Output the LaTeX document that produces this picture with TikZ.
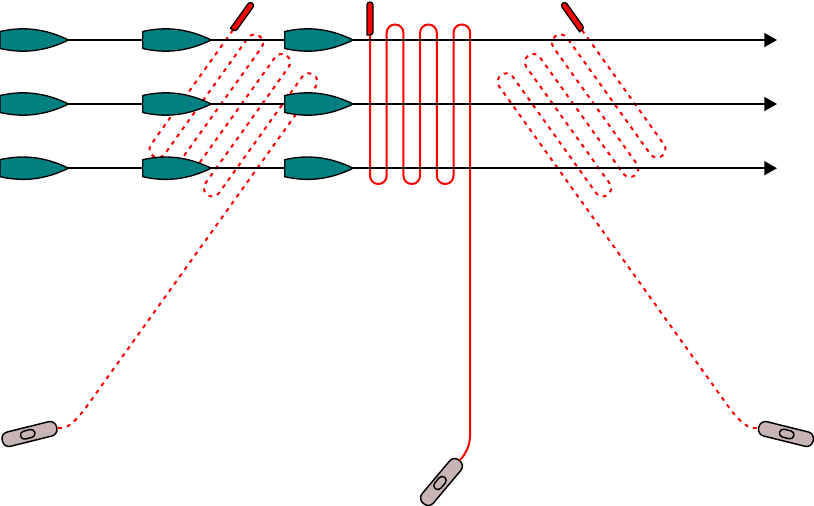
\documentclass[tikz,border=0pt]{standalone}
\usetikzlibrary{arrows.meta}
\definecolor{boatteal}{HTML}{008080}
\definecolor{tagtaupe}{HTML}{C8B4B4}
\tikzset{
  x=.75pt,y=-.75pt,
  rowline/.style={draw=black,line width=1.1pt,-{Triangle[length=9.5pt,width=10.5pt]}},
  boatshape/.style={draw=black,line width=1pt,fill=boatteal},
  solidred/.style={draw=red,line width=1.5pt,rounded corners=6.2pt},
  dottedred/.style={draw=red,line width=1.5pt,rounded corners=6.2pt,dash pattern=on 3pt off 3.7pt},
  needle/.style={draw=black,line width=1pt,fill=red},
  towtag/.style={draw=black,line width=1.1pt,fill=tagtaupe,rounded corners=5pt,minimum width=42pt,minimum height=11pt,inner sep=0pt,outer sep=0pt},
  towslot/.style={draw=black,line width=1.1pt,fill=tagtaupe,rounded corners=2.9pt,minimum width=11pt,minimum height=6pt,inner sep=0pt,outer sep=0pt},
  pics/boat/.style={code={
    \path[boatshape] (0,-8.5) .. controls (24,-14) and (46,-11) .. (68.5,0)
      .. controls (46,11) and (24,14) .. (0,8.5) -- cycle;}},
  pics/pointer/.style={code={
    \path[needle,rounded corners=2.2pt] (-3,0) -- (-3,-33) -- (3,-33) -- (3,0) [sharp corners] -- cycle;}}
}
\newcommand{\serpentlegs}[1]{(0,0) -- (0,149) -- (16.7,149) -- (16.7,-10.5) -- (33.4,-10.5) -- (33.4,149) -- (50.1,149) -- (50.1,-10.5) -- (66.8,-10.5) -- (66.8,149) -- (83.5,149) -- (83.5,-10.5) -- (100.2,-10.5) -- (100.2,#1)}
\begin{document}
\begin{tikzpicture}
\useasboundingbox (0,0) rectangle (814,506);
% named ends
\coordinate (rowAstart) at (0,40);   \coordinate (rowAend) at (777,40);
\coordinate (rowBstart) at (0,104);  \coordinate (rowBend) at (777,104);
\coordinate (rowCstart) at (0,168.2);\coordinate (rowCend) at (777,168.2);
\coordinate (startL) at (233,30);
\coordinate (startM) at (370,35);
\coordinate (startR) at (582,30);
% tow tags with their slots
\node[towtag,rotate=14] (tagL) at (29.5,434) {};
\node[towtag,rotate=50] (tagM) at (441.5,482) {};
\node[towtag,rotate=-14] (tagR) at (786,434) {};
\node[towslot,rotate=14] (slotL) at (27.7,434.3) {};
\node[towslot,rotate=50] (slotM) at (440,483) {};
\node[towslot,rotate=-14] (slotR) at (786.7,434) {};
% red lines
\begin{scope}[shift={(startL)},rotate=-35.6]
  \draw[dottedred] \serpentlegs{380} .. controls (100.2,408) and (98,424) .. (tagL.east);
\end{scope}
\begin{scope}[shift={(startR)},rotate=35.6,xscale=-1]
  \draw[dottedred] \serpentlegs{380} .. controls (100.2,408) and (98,424) .. (tagR.west);
\end{scope}
\begin{scope}[shift={(startM)}]
  \draw[solidred] \serpentlegs{390} .. controls (100.2,410) and (96,419) .. (tagM.east);
\end{scope}
% row lines
\draw[rowline] (rowAstart) -- (rowAend);
\draw[rowline] (rowBstart) -- (rowBend);
\draw[rowline] (rowCstart) -- (rowCend);
% boats
\foreach \bx in {0,142.7,284.7}{
  \pic at (\bx,40) {boat};
  \pic at (\bx,104) {boat};
  \pic at (\bx,168.2) {boat};
}
% pointers
\pic[rotate=-35.6] at (startL) {pointer};
\pic at (startM) {pointer};
\pic[rotate=35.6] at (startR) {pointer};
\end{tikzpicture}
\end{document}
